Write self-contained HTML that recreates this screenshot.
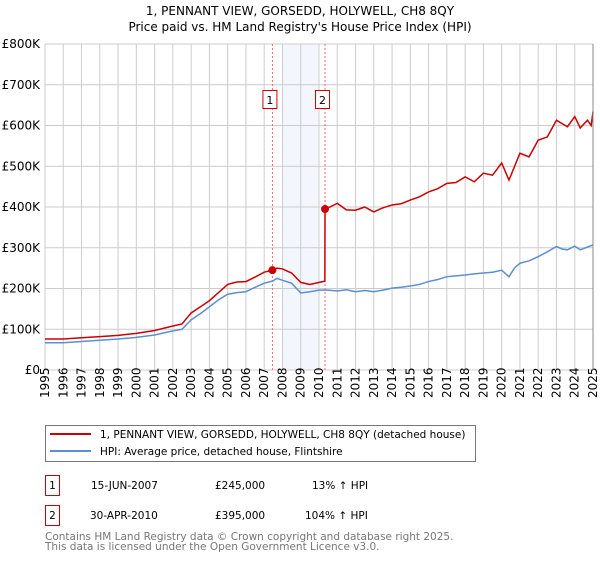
<!DOCTYPE html>
<html><head><meta charset="utf-8"><style>
body{margin:0;background:#fff;}
svg text{font-family:"DejaVu Sans","Liberation Sans",sans-serif;}
</style></head><body>
<svg id="chart" width="600" height="560" xmlns="http://www.w3.org/2000/svg">
<text x="300" y="15" text-anchor="middle" font-size="12" fill="#000">1, PENNANT VIEW, GORSEDD, HOLYWELL, CH8 8QY</text>
<text x="300" y="31" text-anchor="middle" font-size="12" fill="#000">Price paid vs. HM Land Registry's House Price Index (HPI)</text>
<g id="grid"></g><g id="marks"></g><g id="axes"></g>
<g>
<rect x="45.5" y="425.5" width="430" height="36" fill="#fff" stroke="#777"/>
<line x1="50" y1="434" x2="91" y2="434" stroke="#cc0000" stroke-width="2"/>
<text x="100" y="438" font-size="10.5">1, PENNANT VIEW, GORSEDD, HOLYWELL, CH8 8QY (detached house)</text>
<line x1="50" y1="451" x2="91" y2="451" stroke="#5b8fd0" stroke-width="2"/>
<text x="100" y="455" font-size="10.5">HPI: Average price, detached house, Flintshire</text>
</g>
<g font-size="10.5">
<rect x="45.5" y="475.5" width="14" height="20" fill="#fff" stroke="#cc0000"/>
<text x="52.5" y="489" text-anchor="middle">1</text>
<text x="91" y="489">15-JUN-2007</text><text x="215" y="489">£245,000</text><text x="312" y="489">13% ↑ HPI</text>
<rect x="45.5" y="505.5" width="14" height="20" fill="#fff" stroke="#cc0000"/>
<text x="52.5" y="519" text-anchor="middle">2</text>
<text x="90" y="519">30-APR-2010</text><text x="215" y="519">£395,000</text><text x="305" y="519">104% ↑ HPI</text>
</g>
<text x="45" y="540" font-size="10.5" fill="#777">Contains HM Land Registry data © Crown copyright and database right 2025.</text>
<text x="45" y="550" font-size="10.5" fill="#777">This data is licensed under the Open Government Licence v3.0.</text>
</svg>
<script>
const hpiYears=[1995,1996,1997,1998,1999,2000,2001,2002,2002.5,2003,2003.5,2004,2004.5,2005,2005.5,2006,2006.5,2007,2007.45,2007.7,2008,2008.5,2009,2009.5,2010,2010.5,2011,2011.5,2012,2012.5,2013,2013.5,2014,2014.5,2015,2015.5,2016,2016.5,2017,2017.5,2018,2018.5,2019,2019.5,2020,2020.4,2020.7,2021,2021.5,2022,2022.5,2023,2023.3,2023.6,2024,2024.3,2024.6,2025];
const hpiValues=[67,67,70,73,76,80,86,96,100,123,138,155,172,186,190,192,203,213,218,225,220,213,189,192,196,196,194,197,192,195,192,196,201,203,206,210,217,222,229,231,233,236,238,240,245,229,250,262,268,278,290,303,297,295,304,295,300,307];
const priceYears=[1995,1996,1997,1998,1999,2000,2001,2002,2002.5,2003,2003.5,2004,2004.5,2005,2005.5,2006,2006.5,2007,2007.45,2007.7,2008,2008.5,2009,2009.5,2010.32,2010.33,2010.6,2011,2011.5,2012,2012.5,2013,2013.5,2014,2014.5,2015,2015.5,2016,2016.5,2017,2017.5,2018,2018.5,2019,2019.5,2020,2020.4,2021,2021.5,2022,2022.5,2023,2023.3,2023.6,2024,2024.3,2024.7,2024.9,2025];
const priceValues=[76,76,79,82,85,90,97,108,113,140,155,170,190,210,216,217,228,240,245,250,248,238,215,210,218,395,400,409,393,392,400,388,398,405,408,417,425,437,445,458,460,474,462,483,478,508,466,532,523,564,572,613,605,597,622,594,613,600,634];
const sales=[{x:2007.45,v:245,label:'1'},{x:2010.33,v:395,label:'2'}];
const yTicks=[0,100,200,300,400,500,600,700,800];
const yLabels=['£0','£100K','£200K','£300K','£400K','£500K','£600K','£700K','£800K'];
const xTicks=[1995,1996,1997,1998,1999,2000,2001,2002,2003,2004,2005,2006,2007,2008,2009,2010,2011,2012,2013,2014,2015,2016,2017,2018,2019,2020,2021,2022,2023,2024,2025];

const NS='http://www.w3.org/2000/svg';
const X0=45,X1=593,Y0=370,Y1=44;
const sx=y=>X0+(y-1995)/30*(X1-X0);
const sy=v=>Y0-v/800*(Y0-Y1);
function mk(tag,attrs,parent){const e=document.createElementNS(NS,tag);for(const k in attrs)e.setAttribute(k,attrs[k]);parent.appendChild(e);return e;}
const grid=document.getElementById('grid'),marks=document.getElementById('marks'),axes=document.getElementById('axes');
let r=mk('rect',{x:sx(2008),y:Y1,width:sx(2010)-sx(2008),height:Y0-Y1,fill:'#eef3fc',opacity:0.7},grid);


xTicks.forEach((t,i)=>{
 const l=mk('line',{x1:sx(t),x2:sx(t),y1:Y1,y2:Y0,stroke:'#ccc','stroke-width':1},grid);
 
 
 const tx=mk('text',{transform:`translate(${sx(t)+4},${Y0+28}) rotate(-90)`,'font-size':12},axes);
 tx.textContent=t;
 
 
});
yTicks.forEach((t,i)=>{
 const l=mk('line',{x1:X0,x2:X1,y1:sy(t),y2:sy(t),stroke:'#ccc','stroke-width':1},grid);
 
 
 const tx=mk('text',{x:X0-5,y:sy(t)+4,'text-anchor':'end','font-size':12},axes);
 tx.textContent=yLabels[i];
 
 
});
sales.forEach(s=>{
 const l=mk('line',{x1:sx(s.x),x2:sx(s.x),y1:Y1,y2:Y0,stroke:'#ff6666','stroke-dasharray':'2,2','stroke-width':1},marks);
 
 
});
const hp=mk('polyline',{points:hpiYears.map((y,i)=>sx(y)+','+sy(hpiValues[i])).join(' '),fill:'none',stroke:'#5b8fd0','stroke-width':1.5},marks);


const pp=mk('polyline',{points:priceYears.map((y,i)=>sx(y)+','+sy(priceValues[i])).join(' '),fill:'none',stroke:'#cc0000','stroke-width':1.5},marks);


sales.forEach(s=>{
 const c=mk('circle',{cx:sx(s.x),cy:sy(s.v),r:4,fill:'#cc0000'},marks);
 
 
 const b=mk('rect',{x:sx(s.x)-9.5,y:90.5,width:14,height:18,fill:'#fff',stroke:'#cc0000'},marks);
 
 
 const t=mk('text',{x:sx(s.x)-2.5,y:104,'text-anchor':'middle','font-size':11},marks);
 t.textContent=s.label;
 
 
});
const ax=mk('line',{x1:X1,x2:X1,y1:Y1,y2:Y0,stroke:'#888'},axes);


</script>
</body></html>
